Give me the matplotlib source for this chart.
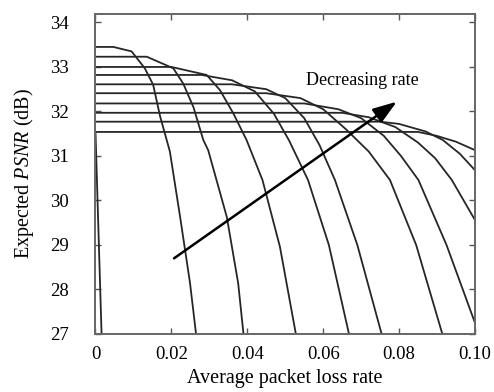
import matplotlib
matplotlib.use("Agg")
import matplotlib.pyplot as plt

plt.rcParams['font.family'] = ['Liberation Serif', 'DejaVu Serif']
plt.rcParams['mathtext.fontset'] = 'custom'
plt.rcParams['mathtext.rm'] = 'Liberation Serif'
plt.rcParams['mathtext.it'] = 'Liberation Serif:italic'

# ---- data ----
c01_x = [0.0, 0.0016]
c01_y = [31.54, 27.0]
c02_x = [0.0, 0.0047, 0.0095, 0.013, 0.0152, 0.017, 0.0196, 0.0223, 0.0249, 0.0265]
c02_y = [33.45, 33.45, 33.35, 32.97, 32.6, 31.9, 31.1, 29.63, 28.15, 27.0]
c03_x = [0.0, 0.0135, 0.0205, 0.0231, 0.0258, 0.0284, 0.0297, 0.0346, 0.0376, 0.039]
c03_y = [33.23, 33.23, 32.97, 32.63, 32.1, 31.36, 31.13, 29.63, 28.14, 27.0]
c04_x = [0.0, 0.02, 0.0293, 0.0328, 0.0363, 0.0398, 0.044, 0.0486, 0.0528]
c04_y = [33.0, 33.0, 32.82, 32.48, 31.96, 31.36, 30.46, 28.96, 27.0]
c05_x = [0.0, 0.028, 0.036, 0.042, 0.047, 0.051, 0.056, 0.0615, 0.0668]
c05_y = [32.82, 32.82, 32.7, 32.45, 31.95, 31.35, 30.46, 29.0, 27.0]
c06_x = [0.0, 0.036, 0.045, 0.05, 0.055, 0.059, 0.0631, 0.069, 0.0754]
c06_y = [32.61, 32.61, 32.5, 32.3, 31.85, 31.25, 30.46, 29.0, 27.0]
c07_x = [0.0, 0.045, 0.054, 0.06, 0.066, 0.072, 0.0776, 0.0845, 0.0914]
c07_y = [32.41, 32.41, 32.3, 32.05, 31.6, 31.1, 30.46, 29.0, 27.0]
c08_x = [0.0, 0.055, 0.064, 0.07, 0.076, 0.0805, 0.0851, 0.0925, 0.10]
c08_y = [32.18, 32.18, 32.05, 31.85, 31.45, 31.0, 30.46, 29.0, 27.25]
c09_x = [0.0, 0.065, 0.072, 0.079, 0.085, 0.0895, 0.0939, 0.10]
c09_y = [31.97, 31.97, 31.87, 31.65, 31.3, 30.95, 30.46, 29.56]
c10_x = [0.0, 0.075, 0.08, 0.087, 0.0915, 0.096, 0.10]
c10_y = [31.77, 31.77, 31.72, 31.55, 31.36, 31.05, 30.68]
c11_x = [0.0, 0.085, 0.09, 0.095, 0.10]
c11_y = [31.54, 31.54, 31.45, 31.32, 31.13]

curves = [(c01_x, c01_y), (c02_x, c02_y), (c03_x, c03_y), (c04_x, c04_y),
          (c05_x, c05_y), (c06_x, c06_y), (c07_x, c07_y), (c08_x, c08_y),
          (c09_x, c09_y), (c10_x, c10_y), (c11_x, c11_y)]

x_ticks = [0, 0.02, 0.04, 0.06, 0.08, 0.10]
x_tick_labels = ['0', '0.02', '0.04', '0.06', '0.08', '0.10']
y_ticks = [27, 28, 29, 30, 31, 32, 33, 34]

arrow_tail = (0.0207, 28.70)
arrow_head = (0.0794, 32.22)
annot_text = 'Decreasing rate'
annot_pos = (0.0702, 32.69)

# ---- figure ----
fig = plt.figure(figsize=(4.94, 3.92), dpi=100)
ax = fig.add_axes([0.1933, 0.148, 0.9615 - 0.1933, 0.9643 - 0.148])

for xs, ys in curves:
    ax.plot(xs, ys, color='#262626', lw=1.3, solid_joinstyle='round')

ax.annotate('', xy=arrow_head, xytext=arrow_tail,
            arrowprops=dict(arrowstyle='-|>,head_length=1.45,head_width=0.5',
                            mutation_scale=10, color='black', lw=1.8,
                            shrinkA=0, shrinkB=0))
ax.text(annot_pos[0], annot_pos[1], annot_text, ha='center', va='center',
        fontsize=13)

ax.set_xlim(0, 0.10)
ax.set_ylim(27, 34.19)
ax.set_xticks(x_ticks)
ax.set_xticklabels(x_tick_labels)
ax.set_yticks(y_ticks)
ax.tick_params(axis='both', direction='in', length=4, width=1.0, color='#555555',
               labelsize=13.5, top=True, right=True)
ax.tick_params(axis='y', pad=19)
ax.tick_params(axis='x', pad=9)
for s in ax.spines.values():
    s.set_color('#666666')
    s.set_linewidth(1.4)

ax.set_xlabel('Average packet loss rate', fontsize=14.5, labelpad=4)
ax.set_ylabel(r'Expected $\mathit{PSNR}$ (dB)', fontsize=14.5, labelpad=10)

fig.savefig('out.png', dpi=100)
